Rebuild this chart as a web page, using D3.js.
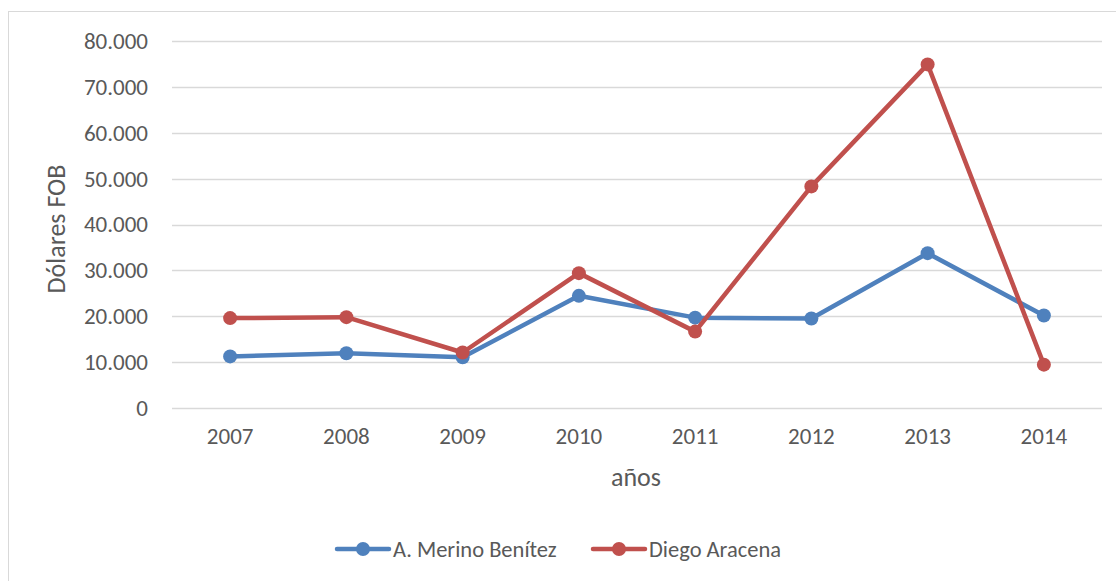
<!DOCTYPE html>
<html>
<head>
<meta charset="utf-8">
<script src="https://cdn.jsdelivr.net/npm/d3@7"></script>
<style>
  body { margin: 0; background: #fff; }
  text { font-family: Carlito, "Open Sans", "Noto Sans", sans-serif; fill: #595959; }
</style>
</head>
<body>
<script>
// data
var years = ["2007", "2008", "2009", "2010", "2011", "2012", "2013", "2014"];
var merino = [11250, 11950, 11050, 24450, 19700, 19500, 33750, 20150];
var aracena = [19600, 19800, 12100, 29400, 16650, 48300, 74900, 9450];
var seriesNames = ["A. Merino Benítez", "Diego Aracena"];
var seriesColors = ["#4f81bd", "#c0504d"];
var yTicks = [0, 10000, 20000, 30000, 40000, 50000, 60000, 70000, 80000];

var W = 1116, H = 581;
var margin = { top: 41, right: 14, bottom: 173, left: 172 };
var width = W - margin.left - margin.right,
  height = H - margin.top - margin.bottom;

var svg = d3.select("body").append("svg")
  .attr("width", W).attr("height", H);

// chart frame (runs off the right and bottom edges)
svg.append("rect")
  .attr("x", 8.5).attr("y", 11.5)
  .attr("width", W + 10).attr("height", H + 10)
  .attr("fill", "none").attr("stroke", "#d9d9d9").attr("stroke-width", 1);

var g = svg.append("g")
  .attr("transform", "translate(" + margin.left + "," + margin.top + ")");

var x = d3.scaleBand().domain(years).range([0, width]);
var y = d3.scaleLinear().domain([0, 80000]).range([height, 0]);

var fmt = function (v) {
  return v === 0 ? "0" : d3.format(",")(v).replace(/,/g, ".");
};

// gridlines
g.selectAll(".grid").data(yTicks).enter().append("line")
  .attr("x1", 0).attr("x2", width)
  .attr("y1", function (d) { return Math.round(y(d)) + 0.5; })
  .attr("y2", function (d) { return Math.round(y(d)) + 0.5; })
  .attr("stroke", "#d9d9d9").attr("stroke-width", 1.5);

// y axis
var yAxis = g.append("g").call(d3.axisLeft(y).tickValues(yTicks).tickFormat(fmt).tickSize(0).tickPadding(24));
yAxis.select(".domain").remove();
yAxis.selectAll("text").style("font-size", "23px").attr("fill", "#595959");

// x axis
var xAxis = g.append("g").attr("transform", "translate(0," + height + ")")
  .call(d3.axisBottom(x).tickSize(0).tickPadding(20));
xAxis.select(".domain").remove();
xAxis.selectAll("text").style("font-size", "23px").attr("fill", "#595959");

// axis titles
svg.append("text")
  .attr("transform", "translate(65,229) rotate(-90)")
  .attr("text-anchor", "middle")
  .style("font-size", "26px")
  .text("Dólares FOB");

svg.append("text")
  .attr("x", 636).attr("y", 486)
  .attr("text-anchor", "middle")
  .style("font-size", "26px")
  .text("años");

// lines + markers
var line = d3.line()
  .x(function (d, i) { return x(years[i]) + x.bandwidth() / 2; })
  .y(function (d) { return y(d); });

[merino, aracena].forEach(function (vals, k) {
  g.append("path").datum(vals)
    .attr("fill", "none")
    .attr("stroke", seriesColors[k])
    .attr("stroke-width", 4.5)
    .attr("stroke-linejoin", "round")
    .attr("d", line);
  g.selectAll(".dot" + k).data(vals).enter().append("circle")
    .attr("cx", function (d, i) { return x(years[i]) + x.bandwidth() / 2; })
    .attr("cy", function (d) { return y(d); })
    .attr("r", 7)
    .attr("fill", seriesColors[k]);
});

// legend
var legendX = [337, 593];
seriesNames.forEach(function (name, k) {
  var lg = svg.append("g").attr("transform", "translate(" + legendX[k] + ",549)");
  lg.append("line").attr("x1", 0).attr("x2", 52).attr("y1", 0).attr("y2", 0)
    .attr("stroke", seriesColors[k]).attr("stroke-width", 4.5).attr("stroke-linecap", "round");
  lg.append("circle").attr("cx", 26).attr("cy", 0).attr("r", 7).attr("fill", seriesColors[k]);
  lg.append("text").attr("x", 56).attr("y", 0).attr("dy", "0.35em")
    .style("font-size", "22.5px").text(name);
});
</script>
</body>
</html>
